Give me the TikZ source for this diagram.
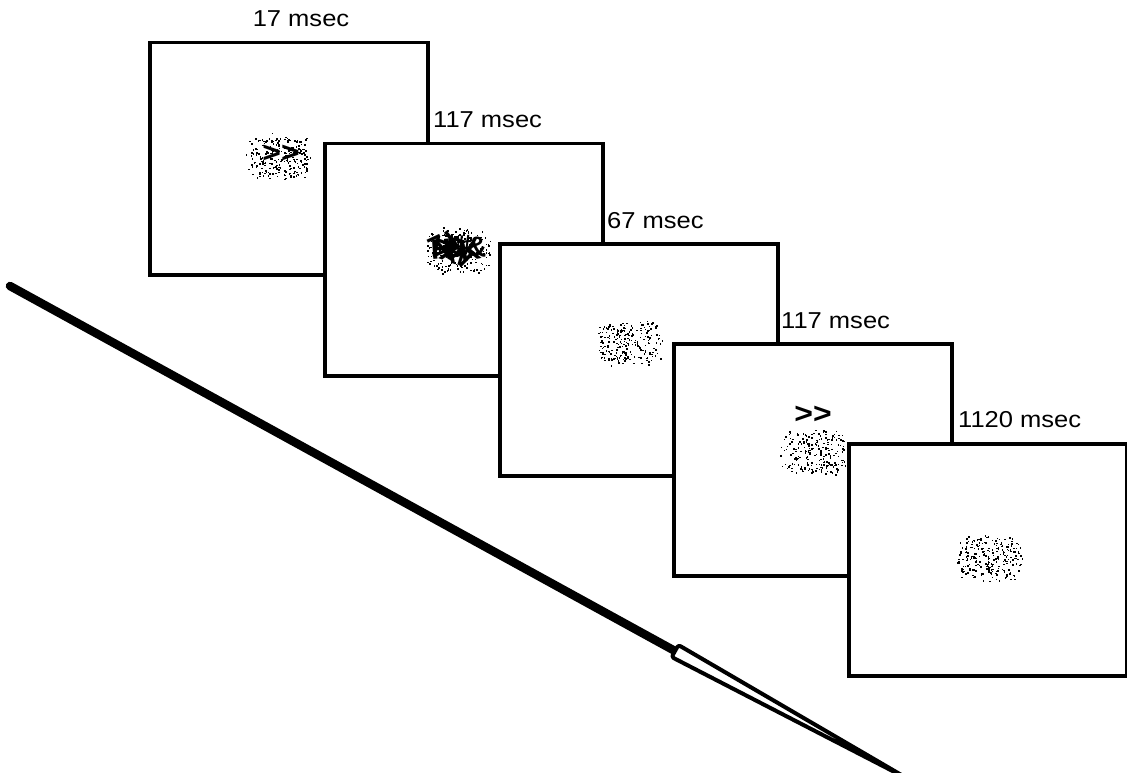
\documentclass[tikz,border=0pt]{standalone}
\usepackage{fontspec}
\usepackage{graphicx}
\setmainfont{Liberation Sans}
\begin{document}
\begin{tikzpicture}[x=1pt,y=-1pt,
  frame/.style={draw=black,line width=3.5pt,fill=white,anchor=north west,
                minimum width=278pt,minimum height=232pt,inner sep=0pt},
  lbl/.style={font=\fontsize{23}{27}\selectfont,inner sep=0pt},
  stim/.style={font=\bfseries\fontsize{29}{32}\selectfont,inner sep=0pt},
  msk/.style={font=\bfseries\fontsize{28}{30}\selectfont,inner sep=0pt},
  noise/.pic={
    \foreach \k in {1,...,300}{
      \pgfmathsetmacro\nx{34*rand}
      \pgfmathsetmacro\ny{24*rand}
      \pgfmathsetmacro\nr{((\nx/34)*(\nx/34))^2+((\ny/24)*(\ny/24))^2}
      \pgfmathsetmacro\nt{0.45+0.5*rnd}
      \ifdim\nr pt<\nt pt \fill[black] (\nx,\ny) rectangle ++(1.5,1.5);\fi
    }
  }
]
\pgfmathsetseed{4711}
\useasboundingbox (0,0) rectangle (1127,773);
\clip (0,0) rectangle (1127,773);

% arrow
\coordinate (A) at (10,286);
\coordinate (B) at (675,651);
\coordinate (T) at (910,780);
\coordinate (Pu) at (678.4,645);
\coordinate (Pl) at (671.6,657);
\draw[line width=8.5pt,line cap=round] (A) -- (B);
\draw[line width=4pt,fill=white,line join=round,rounded corners=2.5pt] (Pu) -- (T) -- (Pl) -- cycle;

% box 1
\node[frame] (b1) at (148,41) {};
\pic at (279,156) {noise};
\node[stim] (s1) at (281,154) {\scalebox{1.1}[1]{{>}{>}}};
\node[lbl,anchor=base] (l1) at (301,27) {\scalebox{1.11}[1]{17 msec}};

% box 2
\node[frame] (b2) at (323,142) {};
\pic at (458,250) {noise};
\node[msk,rotate=4] (m1) at (441,249) {H};
\node[msk,rotate=-6] (m2) at (456,248) {D};
\node[msk,rotate=12] (m3) at (470,251) {K};
\node[msk,rotate=-20] (m4) at (451,253) {X};
\node[msk,rotate=5] (m5) at (464,245) {\#};
\node[msk,rotate=-5] (m6) at (477,247) {\&};
\node[msk,rotate=25] (m7) at (437,246) {Z};
\node[msk,rotate=-30] (m8) at (460,255) {W};
\node[msk,rotate=40] (m9) at (447,244) {N};
\node[lbl,anchor=base west] (l2) at (433,128) {\scalebox{1.11}[1]{117 msec}};

% box 3
\node[frame] (b3) at (498,242) {};
\pic at (630,343) {noise};
\node[lbl,anchor=base west] (l3) at (607,228) {\scalebox{1.11}[1]{67 msec}};

% box 4
\node[frame] (b4) at (672,342) {};
\pic at (813,452) {noise};
\node[stim] (s4) at (813,415) {\scalebox{1.1}[1]{{>}{>}}};
\node[lbl,anchor=base west] (l4) at (781,328) {\scalebox{1.11}[1]{117 msec}};

% box 5
\node[frame] (b5) at (847,442) {};
\pic at (990,558) {noise};
\node[lbl,anchor=base west] (l5) at (958,427) {\scalebox{1.11}[1]{1120 msec}};
\end{tikzpicture}
\end{document}
